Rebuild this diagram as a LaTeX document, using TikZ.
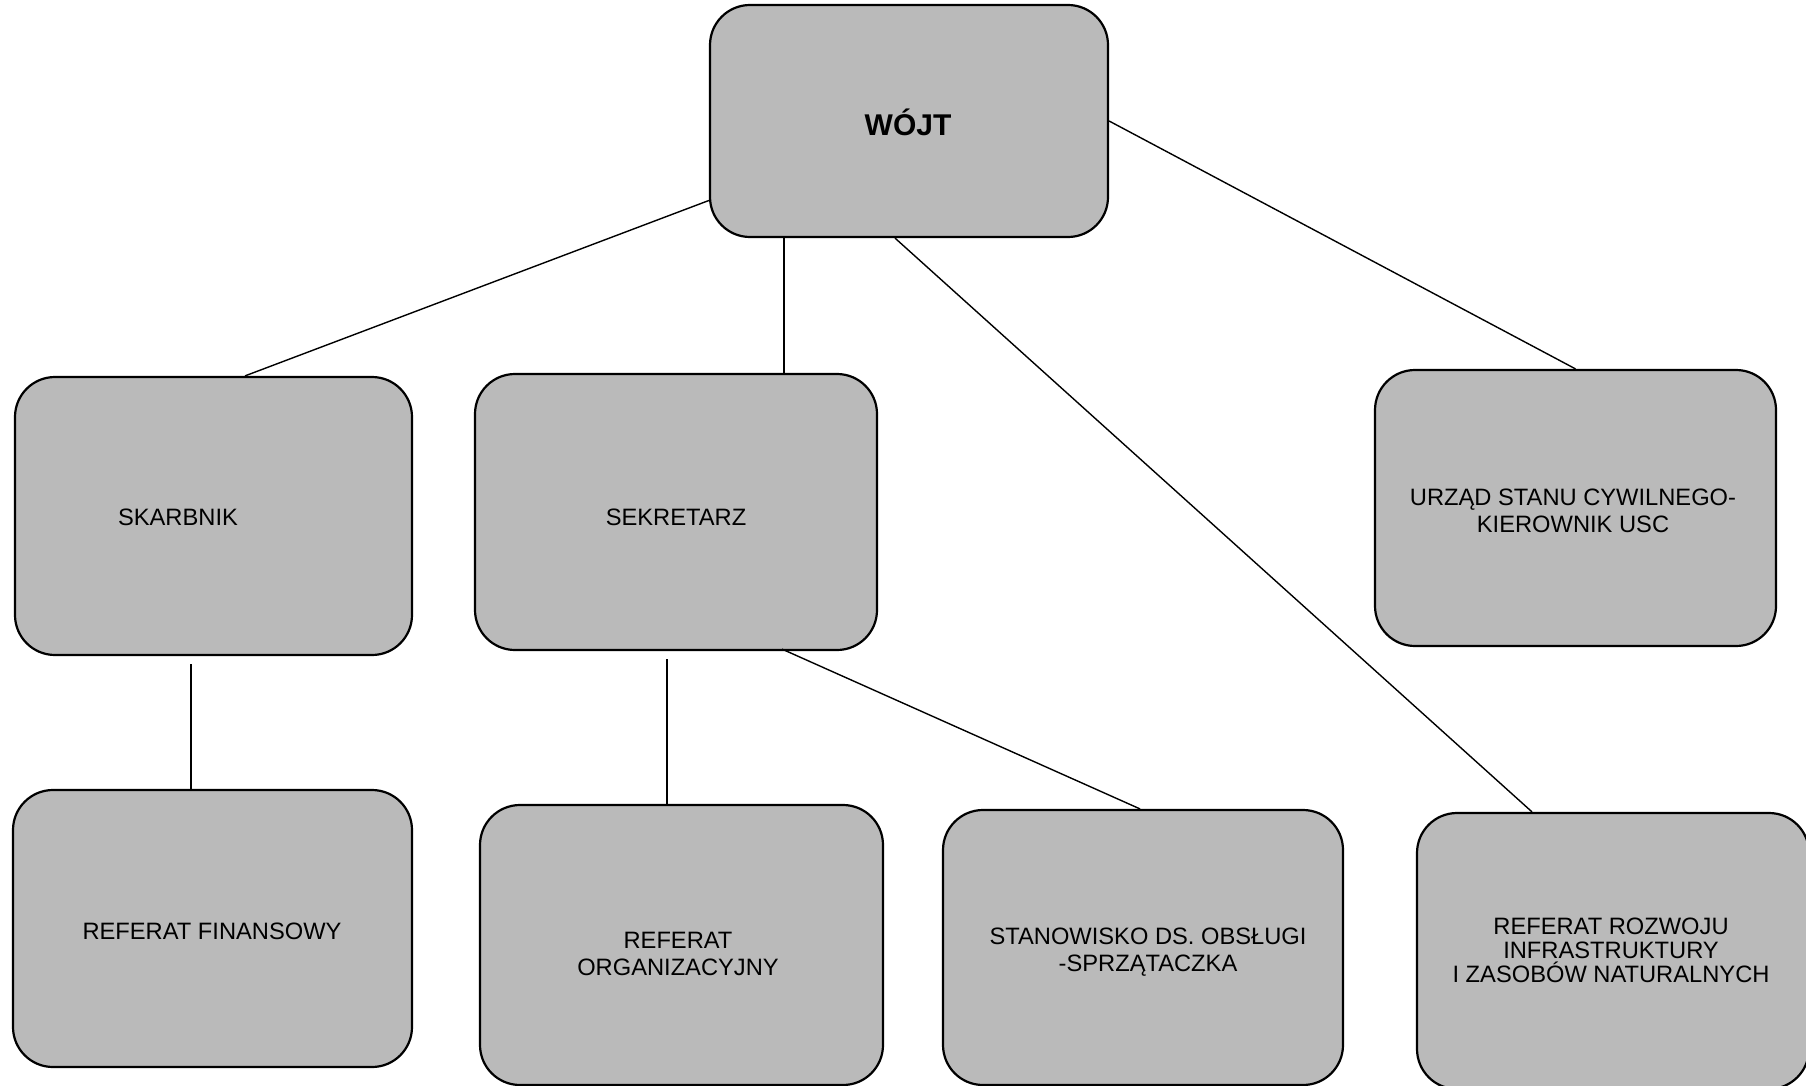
\documentclass[tikz,border=0pt]{standalone}
\usepackage{fontspec}
\setmainfont{Liberation Sans}
\usetikzlibrary{calc}
\tikzset{
  orgbox/.style={draw=black, line width=2.2pt, fill=black!27, rounded corners=40pt,
    rectangle, inner sep=0pt},
  orgtext/.style={align=center, font=\fontsize{23.7}{27}\selectfont, inner sep=0pt},
  conn/.style={draw=black, line width=1.4pt},
}
\begin{document}
\begin{tikzpicture}[x=1pt,y=-1pt]
\useasboundingbox (0,0) rectangle (1806,1086);
% boxes
\node[orgbox, minimum width=398pt, minimum height=232pt] (wojt)  at (909,121) {};
\node[orgbox, minimum width=397pt, minimum height=278pt] (skarb) at (213.5,516) {};
\node[orgbox, minimum width=402pt, minimum height=276pt] (sekr)  at (676,512) {};
\node[orgbox, minimum width=401pt, minimum height=276pt] (usc)   at (1575.5,508) {};
\node[orgbox, minimum width=399pt, minimum height=277pt] (fin)   at (212.5,928.5) {};
\node[orgbox, minimum width=403pt, minimum height=280pt] (org)   at (681.5,945) {};
\node[orgbox, minimum width=400pt, minimum height=275pt] (stan)  at (1143,947.5) {};
\node[orgbox, minimum width=392pt, minimum height=276pt] (roz)   at (1613,951) {};
% texts
\node[orgtext, font=\fontsize{30}{34}\selectfont\bfseries] (twojt) at (908,122) {WÓJT};
\node[orgtext] (tskarb) at (178,517) {SKARBNIK};
\node[orgtext] (tsekr) at (676,517) {SEKRETARZ};
\node[orgtext] (tusc) at (1573,511) {URZĄD STANU CYWILNEGO-\\KIEROWNIK USC};
\node[orgtext] (tfin) at (212,931) {REFERAT FINANSOWY};
\node[orgtext] (torg) at (678,954) {REFERAT\\ORGANIZACYJNY};
\node[orgtext] (tstan) at (1148,952) {STANOWISKO DS. OBSŁUGI\\-SPRZĄTACZKA};
\node[orgtext, font=\fontsize{23.7}{24}\selectfont] (troz) at (1611,950) {REFERAT ROZWOJU\\INFRASTRUKTURY\\I ZASOBÓW NATURALNYCH};
% connectors
\draw[conn] ($(wojt.south west)+(1,-38)$) -- ($(skarb.north)+(31.5,0)$);
\draw[conn] ($(wojt.south)+(-125,0)$) coordinate (c1) -- (c1 |- sekr.north);
\draw[conn] ($(wojt.south)+(-14,0)$) -- ($(roz.north)+(-81,0)$);
\draw[conn] (wojt.east) -- (usc.north);
\draw[conn] ($(skarb.south)+(-22.5,8)$) coordinate (c2) -- (c2 |- fin.north);
\draw[conn] ($(sekr.south)+(-9,8)$) coordinate (c3) -- (c3 |- org.north);
\draw[conn] ($(sekr.south)+(106,-2)$) -- ($(stan.north)+(-3,0)$);
\end{tikzpicture}
\end{document}
